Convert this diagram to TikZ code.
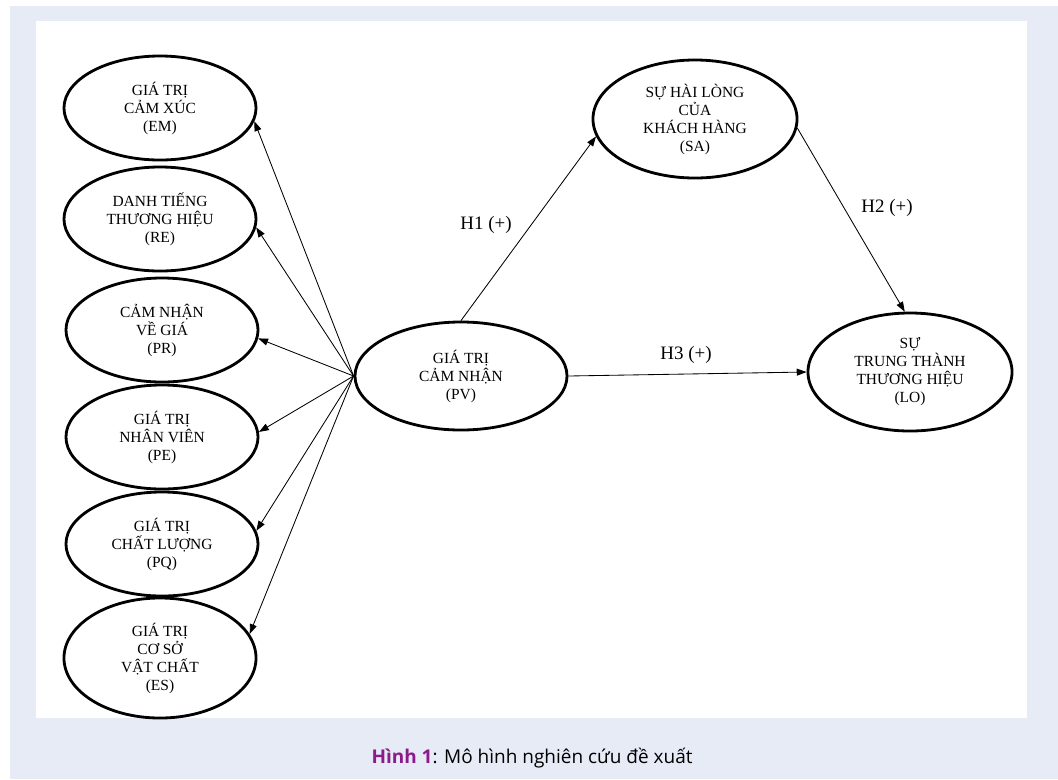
\documentclass[tikz,border=0pt]{standalone}
\usepackage{fontspec}
\setmainfont{Liberation Serif}
\newfontfamily\captionfont{Open Sans}
\usetikzlibrary{shapes.geometric}
\usetikzlibrary{arrows.meta}
\definecolor{panel}{RGB}{231,235,246}
\definecolor{figlabel}{RGB}{140,26,140}
\newcommand{\causal}[2] % from node, to node
{
	\draw[link] (#1) -- (#2);
}

\begin{document}
\begin{tikzpicture}[x=0.025cm, y=-0.025cm,
	construct/.style={draw, ellipse, line width=2pt, inner sep=0pt, align=center,
		minimum width=4.8cm, minimum height=2.6cm, font=\fontsize{11}{12.8}\selectfont},
	link/.style={line width=0.6pt, -{Triangle[length=7pt,width=5pt]}},
	hyp/.style={font=\fontsize{13.5}{15}\selectfont}]
	% page 1058 x 779 px
	\useasboundingbox (0,0) rectangle (1058,779);
	\fill[white] (0,0) rectangle (1058,779);
	\fill[panel] (10,6) rectangle (1058,779);
	\fill[white] (36,21) rectangle (1027,718);
	% antecedents
	\node[construct] (em) at (160,108) {GIÁ TRỊ\\CẢM XÚC\\(EM)};
	\node[construct] (re) at (160,219) {DANH TIẾNG\\THƯƠNG HIỆU\\(RE)};
	\node[construct] (pr) at (162,330) {CẢM NHẬN\\VỀ GIÁ\\(PR)};
	\node[construct] (pe) at (162,437) {GIÁ TRỊ\\NHÂN VIÊN\\(PE)};
	\node[construct] (pq) at (162,544) {GIÁ TRỊ\\CHẤT LƯỢNG\\(PQ)};
	\node[construct, minimum height=3cm] (es) at (160,658) {GIÁ TRỊ\\CƠ SỞ\\VẬT CHẤT\\(ES)};
	% core constructs
	\node[construct, minimum width=5.3cm, minimum height=2.7cm] (pv) at (461,376) {GIÁ TRỊ\\CẢM NHẬN\\(PV)};
	\node[construct, minimum width=5.1cm, minimum height=2.95cm] (sa) at (695,119) {SỰ HÀI LÒNG\\CỦA\\KHÁCH HÀNG\\(SA)};
	\node[construct, minimum width=5.1cm, minimum height=2.95cm] (lo) at (910,372) {SỰ\\TRUNG THÀNH\\THƯƠNG HIỆU\\(LO)};
	% dimensions of perceived value
	\causal{pv.west}{em.-8};
	\causal{pv.west}{re.-5};
	\causal{pv.west}{pr.-5};
	\causal{pv.west}{pe.3};
	\causal{pv.west}{pq.8};
	\causal{pv.west}{es.15};
	% hypotheses
	\causal{pv.north}{sa.190};
	\causal{sa.-5}{lo.95};
	\causal{pv.east}{lo.west};
	\node[hyp] (h1) at (486,225) {H1 (+)};
	\node[hyp] (h2) at (887,208) {H2 (+)};
	\node[hyp] (h3) at (686,355) {H3 (+)};
	% caption
	\node[font=\captionfont\fontsize{13.5}{15}\selectfont] (cap) at (532,758)
		{\textcolor{figlabel}{\bfseries Hình 1}: Mô hình nghiên cứu đề xuất};
\end{tikzpicture}
\end{document}
